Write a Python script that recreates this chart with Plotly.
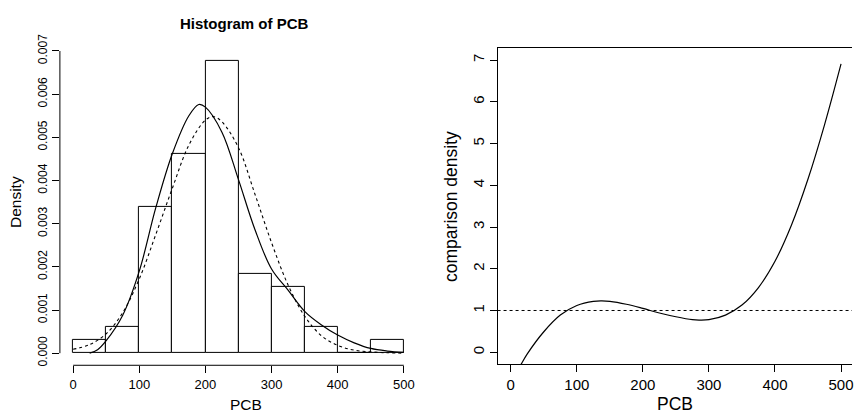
import plotly.graph_objects as go

# ---------------- data ----------------
bin_edges = [0, 50, 100, 150, 200, 250, 300, 350, 400, 450, 500]
bin_counts = [1, 2, 11, 15, 22, 6, 5, 2, 0, 1]          # n = 65

# solid density curve (left panel)
solid_x = [25, 37, 50, 75, 100, 125, 150, 175, 190, 200, 225, 250, 275, 300,
           325, 350, 375, 400, 425, 450, 475, 500]
solid_y = [0.0, 0.00008, 0.00029, 0.00088, 0.00190, 0.00337, 0.00462, 0.00550,
           0.00576, 0.00570, 0.00512, 0.00402, 0.00286, 0.00195, 0.00146,
           0.00097, 0.00066, 0.00042, 0.00024, 0.00011, 0.00005, 0.00002]

# dashed (normal) density curve (left panel)
dash_x = [0, 25, 50, 75, 100, 125, 150, 175, 200, 212, 225, 250, 275, 300,
          325, 350, 375, 400, 425, 450, 475, 500]
dash_y = [0.00009, 0.00020, 0.00045, 0.00094, 0.00172, 0.00275, 0.00382,
          0.00482, 0.00540, 0.00548, 0.00536, 0.00476, 0.00368, 0.00256,
          0.00158, 0.00086, 0.00041, 0.00018, 0.00007, 0.00003, 0.00001, 0.0]

# comparison density (right panel)
comp_x = [10, 16, 25, 50, 75, 100, 125, 138, 150, 175, 200, 225, 250, 275, 285,
          300, 325, 350, 375, 400, 425, 450, 475, 500]
comp_y = [-0.46, -0.28, -0.04, 0.49, 0.89, 1.12, 1.22, 1.23, 1.22, 1.15, 1.05,
          0.94, 0.85, 0.78, 0.77, 0.78, 0.89, 1.13, 1.55, 2.18, 3.05, 4.15,
          5.45, 6.91]
ref_level = 1

x_ticks = [0, 100, 200, 300, 400, 500]
y1_ticks = [0.000, 0.001, 0.002, 0.003, 0.004, 0.005, 0.006, 0.007]
y1_ticktext = ["0.000", "0.001", "0.002", "0.003", "0.004", "0.005", "0.006", "0.007"]
y2_ticks = [0, 1, 2, 3, 4, 5, 6, 7]

# ---------------- derived ----------------
n = sum(bin_counts)
centers = [(a + b) / 2 for a, b in zip(bin_edges[:-1], bin_edges[1:])]
widths = [b - a for a, b in zip(bin_edges[:-1], bin_edges[1:])]
density = [c / (n * w) for c, w in zip(bin_counts, widths)]

FONT = "Liberation Sans, Arial, Helvetica, sans-serif"

fig = go.Figure()
fig.add_trace(go.Bar(x=centers, y=density, width=widths,
                     marker=dict(color="white", line=dict(color="black", width=1)),
                     xaxis="x", yaxis="y", showlegend=False))
fig.add_trace(go.Scatter(x=dash_x, y=dash_y, mode="lines", line_shape="spline",
                         line=dict(color="black", width=1.1, dash="3px,3px"),
                         xaxis="x", yaxis="y", showlegend=False))
fig.add_trace(go.Scatter(x=solid_x, y=solid_y, mode="lines", line_shape="spline",
                         line=dict(color="black", width=1.2),
                         xaxis="x", yaxis="y", showlegend=False))
fig.add_trace(go.Scatter(x=comp_x, y=comp_y, mode="lines", line_shape="spline",
                         line=dict(color="black", width=1.2),
                         xaxis="x2", yaxis="y2", showlegend=False))

common_axis = dict(showgrid=False, zeroline=False, ticks="outside", ticklen=7,
                   tickwidth=1, tickcolor="black", color="black")

fig.update_layout(
    width=854, height=413,
    margin=dict(l=0, r=0, t=0, b=0),
    paper_bgcolor="white", plot_bgcolor="white",
    font=dict(family=FONT, color="black"),
    bargap=0,
    xaxis=dict(domain=[0.0703, 0.4895], range=[-20, 520], anchor="y",
               tickvals=x_ticks, showline=False,
               tickfont=dict(size=13), **common_axis),
    yaxis=dict(domain=[0.1148, 0.9167], range=[-0.00028, 0.00728], anchor="x",
               tickvals=y1_ticks, ticktext=y1_ticktext, tickangle=-90,
               showline=False, tickfont=dict(size=12), **common_axis),
    xaxis2=dict(domain=[0.584, 1.0], range=[-20, 516.6], anchor="y2",
                tickvals=x_ticks, showline=True, mirror=True, linecolor="black",
                linewidth=1, tickfont=dict(size=15), ticklabeloverflow="allow",
                **common_axis),
    yaxis2=dict(domain=[0.1179, 0.8942], range=[-0.283, 7.29], anchor="x2",
                tickvals=y2_ticks, tickangle=-90, showline=True, linecolor="black",
                linewidth=1, tickfont=dict(size=15), **common_axis),
    shapes=[
        dict(type="line", xref="x", yref="y domain", x0=x_ticks[0], x1=x_ticks[-1],
             y0=0, y1=0, line=dict(color="black", width=1)),
        dict(type="line", xref="x domain", yref="y", x0=0, x1=0,
             y0=y1_ticks[0], y1=y1_ticks[-1], line=dict(color="black", width=1)),
        dict(type="line", xref="x2 domain", yref="y2", x0=0, x1=1,
             y0=ref_level, y1=ref_level,
             line=dict(color="black", width=1, dash="3px,3px")),
    ],
    annotations=[
        dict(text="<b>Histogram of PCB</b>", x=245.5 / 854, y=1 - 19 / 413,
             xref="paper", yref="paper", showarrow=False, xanchor="center",
             yanchor="middle", font=dict(size=15)),
        dict(text="Density", x=15 / 854, y=1 - 200 / 413, xref="paper", yref="paper",
             showarrow=False, textangle=-90, xanchor="center", yanchor="middle",
             font=dict(size=15.5)),
        dict(text="PCB", x=247 / 854, y=1 - 405 / 413, xref="paper", yref="paper",
             showarrow=False, xanchor="center", yanchor="middle", font=dict(size=15.5)),
        dict(text="comparison density", x=452 / 854, y=1 - 204 / 413, xref="paper",
             yref="paper", showarrow=False, textangle=-90, xanchor="center",
             yanchor="middle", font=dict(size=17.5)),
        dict(text="PCB", x=677 / 854, y=1 - 405 / 413, xref="paper", yref="paper",
             showarrow=False, xanchor="center", yanchor="middle", font=dict(size=17.5)),
    ],
)

fig.write_html("out.html")
